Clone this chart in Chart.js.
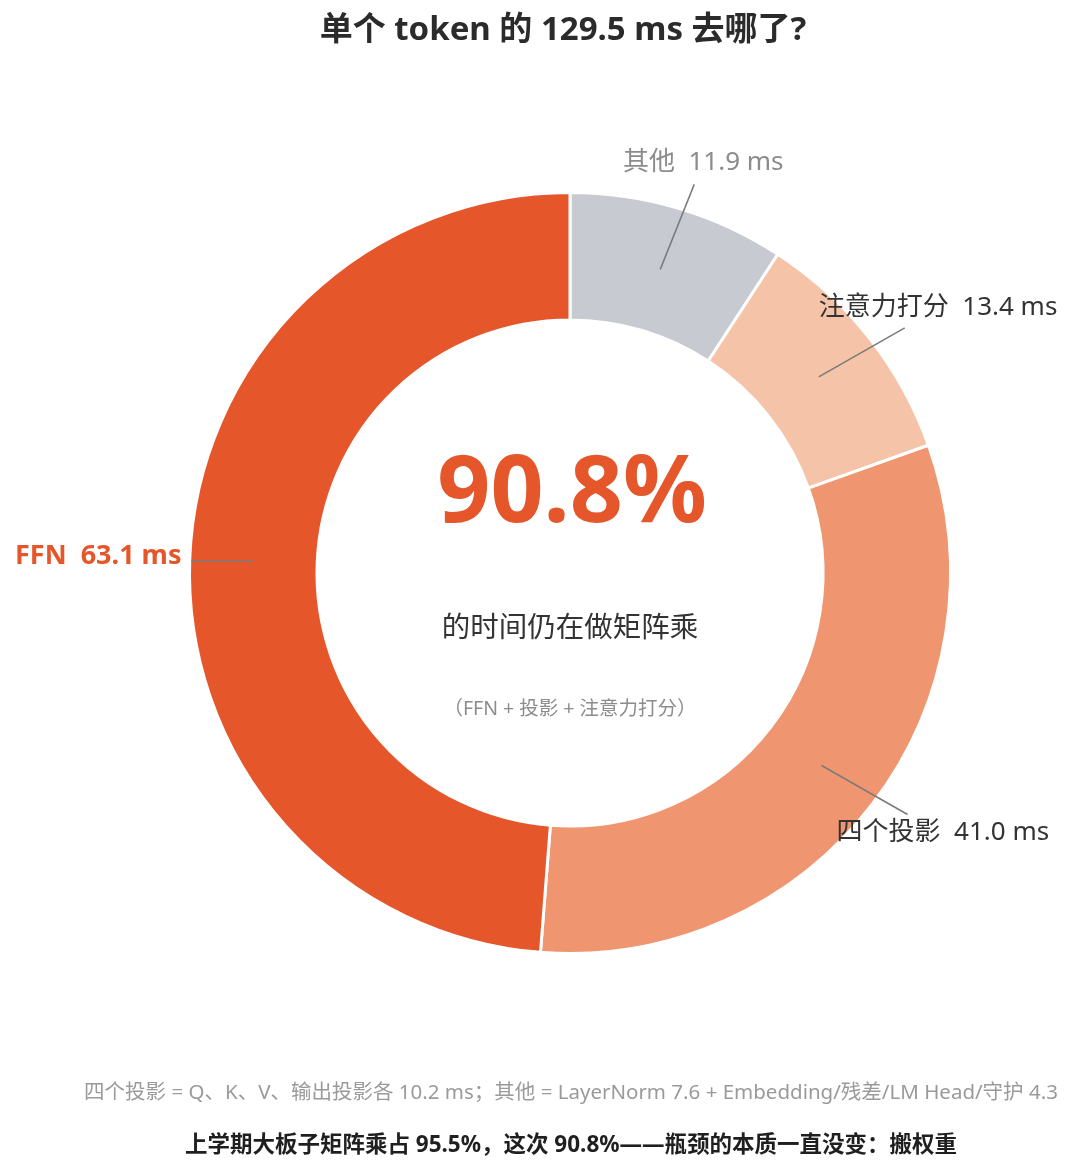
<!DOCTYPE html>
<html>
<head>
<meta charset="utf-8">
<script src="https://cdn.jsdelivr.net/npm/chart.js@4"></script>
<style>
  html, body { margin: 0; padding: 0; background: #fff; }
  canvas { display: block; }
</style>
</head>
<body>
<canvas id="pie" width="1080" height="1175"></canvas>
<script>
// 数据
const categorias = ["其他", "注意力打分", "四个投影", "FFN"];
const tempos = [11.9, 13.4, 41.0, 63.1];
const matmul = ["注意力打分", "四个投影", "FFN"];

const titulo = "单个 token 的 129.5 ms 去哪了?";
const textoCentro = "的时间仍在做矩阵乘";
const subCentro = "（FFN + 投影 + 注意力打分）";
const nota1 = "四个投影 = Q、K、V、输出投影各 10.2 ms；其他 = LayerNorm 7.6 + Embedding/残差/LM Head/守护 4.3";
const nota2 = "上学期大板子矩阵乘占 95.5%，这次 90.8%——瓶颈的本质一直没变：搬权重";

const cores = ["#C8CAD2", "#F5C4A8", "#EF9670", "#E5562B"];
const FONTE = "'Noto Sans', 'Noto Sans CJK SC', sans-serif";

// linha: deslocamento do fim em relação ao meio do arco; texto: relativo ao fim da linha
const rotulos = [
  { lx: 34, ly: -85, align: "center", dx: 9, dy: -22, cor: "#8c8c8c", fonte: "normal 26px " },
  { lx: 86, ly: -49, align: "left", dx: -86, dy: -20, cor: "#333333", fonte: "normal 26px " },
  { lx: 86, ly: 49, align: "left", dx: -71, dy: 18, cor: "#333333", fonte: "normal 26px " },
  { lx: -62, ly: 0, align: "right", dx: -10, dy: -4, cor: "#E5562B", fonte: "bold 27px " },
];

const total = tempos.reduce((a, b) => a + b, 0);
const somaMatmul = categorias.reduce((s, c, i) => s + (matmul.includes(c) ? tempos[i] : 0), 0);
const pct = (somaMatmul / total * 100).toFixed(1) + "%";

const textosPlugin = {
  id: "textos",
  afterDraw(chart) {
    const ctx = chart.ctx;
    const arcs = chart.getDatasetMeta(0).data;
    ctx.save();

    // linhas e rótulos
    arcs.forEach((arc, i) => {
      const cfg = rotulos[i];
      const meio = (arc.startAngle + arc.endAngle) / 2;
      const rMeio = (arc.innerRadius + arc.outerRadius) / 2;
      const x0 = arc.x + Math.cos(meio) * rMeio;
      const y0 = arc.y + Math.sin(meio) * rMeio;
      const x1 = x0 + cfg.lx;
      const y1 = y0 + cfg.ly;

      ctx.strokeStyle = "#7a7a7a";
      ctx.lineWidth = 1.5;
      ctx.beginPath();
      ctx.moveTo(x0, y0);
      ctx.lineTo(x1, y1);
      ctx.stroke();

      ctx.font = cfg.fonte + FONTE;
      ctx.fillStyle = cfg.cor;
      ctx.textAlign = cfg.align;
      ctx.textBaseline = "middle";
      ctx.fillText(categorias[i] + "  " + tempos[i].toFixed(1) + " ms", x1 + cfg.dx, y1 + cfg.dy);
    });

    const cx = arcs[0].x;
    const cy = arcs[0].y;
    ctx.textAlign = "center";
    ctx.textBaseline = "middle";

    ctx.font = "bold 93px " + FONTE;
    ctx.fillStyle = "#E5562B";
    ctx.fillText(pct, cx + 2, cy - 78);

    ctx.font = "28.5px " + FONTE;
    ctx.fillStyle = "#333333";
    ctx.fillText(textoCentro, cx, cy + 56);

    ctx.font = "19.5px " + FONTE;
    ctx.fillStyle = "#8c8c8c";
    ctx.fillText(subCentro, cx, cy + 136);

    // título e notas
    ctx.font = "bold 33px " + FONTE;
    ctx.fillStyle = "#2b2b2b";
    ctx.fillText(titulo, 563, 31);

    ctx.font = "20.5px " + FONTE;
    ctx.fillStyle = "#9a9a9a";
    ctx.fillText(nota1, 571, 1093);

    ctx.font = "bold 22.5px " + FONTE;
    ctx.fillStyle = "#1f1f1f";
    ctx.fillText(nota2, 571, 1146);

    ctx.restore();
  },
};

new Chart(document.getElementById("pie"), {
  type: "doughnut",
  data: {
    labels: categorias,
    datasets: [
      {
        data: tempos,
        backgroundColor: cores,
        borderColor: "#ffffff",
        borderWidth: 3,
        hoverOffset: 0,
      },
    ],
  },
  options: {
    responsive: false,
    animation: false,
    cutout: "66.5%",
    layout: { padding: { left: 188, right: 128, top: 191, bottom: 220 } },
    plugins: {
      legend: { display: false },
      tooltip: { enabled: false },
      title: { display: false },
    },
  },
  plugins: [textosPlugin],
});
</script>
</body>
</html>
